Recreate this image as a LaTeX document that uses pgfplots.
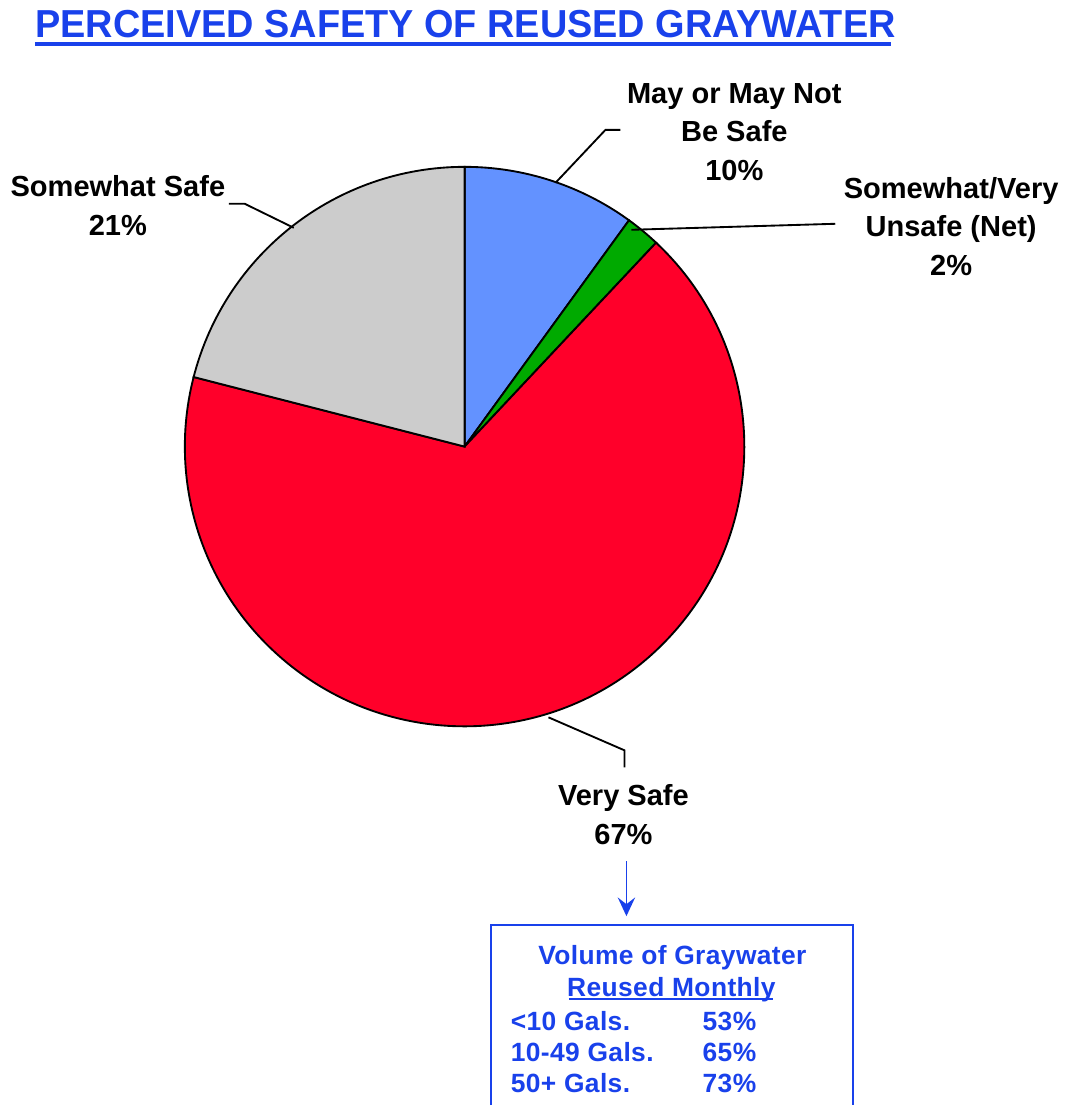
\documentclass[border=0pt]{standalone}
\usepackage{pgfplots}
\pgfplotsset{compat=1.18}
\usepackage{graphicx}
\usepackage{fontspec}
\setmainfont{Liberation Sans}
\usetikzlibrary{arrows.meta}
\definecolor{pieBlue}{RGB}{99,146,255}
\definecolor{pieGreen}{RGB}{0,170,0}
\definecolor{pieRed}{RGB}{255,0,42}
\definecolor{pieGray}{RGB}{204,204,204}
\definecolor{titleBlue}{RGB}{25,65,235}

% shares (%), clockwise from 12 o'clock:
% May or May Not Be Safe 10, Somewhat/Very Unsafe 2, Very Safe 67, Somewhat Safe 21
\newcommand{\lab}{\fontsize{21.8}{26}\selectfont\bfseries}
\newcommand{\boxf}{\fontsize{19.8}{24}\selectfont\bfseries\addfontfeatures{LetterSpace=1.5}}

\begin{document}
\begin{tikzpicture}
\begin{axis}[
    width=801pt, height=829.5pt, scale only axis,
    xmin=0, xmax=1068, ymin=0, ymax=1106,
    hide axis, clip=false,
]
\path (axis cs:0,0) rectangle (axis cs:1068,1106);

% pie: centre (465,659), radius 280
\filldraw[fill=pieBlue, draw=black, line width=1.4pt] (axis cs:465,659) -- (axis cs:{465+280*cos(90)},{659+280*sin(90)}) arc[start angle=90, end angle={90-3.6*10}, radius=280] -- cycle;
\filldraw[fill=pieGreen, draw=black, line width=1.4pt] (axis cs:465,659) -- (axis cs:{465+280*cos(54)},{659+280*sin(54)}) arc[start angle=54, end angle={54-3.6*2}, radius=280] -- cycle;
\filldraw[fill=pieRed, draw=black, line width=1.4pt] (axis cs:465,659) -- (axis cs:{465+280*cos(46.8)},{659+280*sin(46.8)}) arc[start angle=46.8, end angle={46.8-3.6*67}, radius=280] -- cycle;
\filldraw[fill=pieGray, draw=black, line width=1.4pt] (axis cs:465,659) -- (axis cs:{465+280*cos(-194.4)},{659+280*sin(-194.4)}) arc[start angle=-194.4, end angle={-194.4-3.6*21}, radius=280] -- cycle;

% leader lines
\draw[line width=1.4pt] (axis cs:556,923) -- (axis cs:606,976) -- (axis cs:621,976);
\draw[line width=1.4pt] (axis cs:632,876) -- (axis cs:836,882);
\draw[line width=1.4pt] (axis cs:294,878) -- (axis cs:245,902) -- (axis cs:229,902);
\draw[line width=1.4pt] (axis cs:549,388) -- (axis cs:625,355) -- (axis cs:625,338);

% title
\node[anchor=base west, inner sep=0pt, text=titleBlue, font=\fontsize{29.3}{31}\selectfont\bfseries] at (axis cs:35,1068) {\scalebox{0.97}[1]{PERCEIVED SAFETY OF REUSED GRAYWATER}};
\draw[titleBlue, line width=3pt] (axis cs:35,1062) -- (axis cs:892,1062);

% labels
\node[anchor=base, inner sep=0pt, font=\lab] at (axis cs:735,1002) {May or May Not};
\node[anchor=base, inner sep=0pt, font=\lab] at (axis cs:735,964) {Be Safe};
\node[anchor=base, inner sep=0pt, font=\lab] at (axis cs:735,925) {10\%};
\node[anchor=base, inner sep=0pt, font=\lab] at (axis cs:952,907) {Somewhat/Very};
\node[anchor=base, inner sep=0pt, font=\lab] at (axis cs:952,869) {Unsafe (Net)};
\node[anchor=base, inner sep=0pt, font=\lab] at (axis cs:952,830) {2\%};
\node[anchor=base, inner sep=0pt, font=\lab] at (axis cs:118,909) {Somewhat Safe};
\node[anchor=base, inner sep=0pt, font=\lab] at (axis cs:118,870) {21\%};
\node[anchor=base, inner sep=0pt, font=\lab] at (axis cs:624,300) {Very Safe};
\node[anchor=base, inner sep=0pt, font=\lab] at (axis cs:624,261) {67\%};

% arrow and box
\draw[titleBlue, line width=1.4pt, -{Stealth[length=14pt, width=13pt, inset=5pt]}] (axis cs:627,244) -- (axis cs:627,189);
\draw[titleBlue, line width=1.5pt] (axis cs:491,0) -- (axis cs:491,180) -- (axis cs:854,180) -- (axis cs:854,0);
\node[anchor=base, inner sep=0pt, text=titleBlue, font=\boxf] at (axis cs:673,141) {Volume of Graywater};
\node[anchor=base, inner sep=0pt, text=titleBlue, font=\boxf] at (axis cs:672,109) {Reused Monthly};
\draw[titleBlue, line width=1.3pt] (axis cs:570,106) -- (axis cs:774,106);
\node[anchor=base west, inner sep=0pt, text=titleBlue, font=\boxf] at (axis cs:511,75) {<10 Gals.};
\node[anchor=base west, inner sep=0pt, text=titleBlue, font=\boxf] at (axis cs:703,75) {53\%};
\node[anchor=base west, inner sep=0pt, text=titleBlue, font=\boxf] at (axis cs:511,44) {10-49 Gals.};
\node[anchor=base west, inner sep=0pt, text=titleBlue, font=\boxf] at (axis cs:703,44) {65\%};
\node[anchor=base west, inner sep=0pt, text=titleBlue, font=\boxf] at (axis cs:511,13) {50+ Gals.};
\node[anchor=base west, inner sep=0pt, text=titleBlue, font=\boxf] at (axis cs:703,13) {73\%};
\end{axis}
\end{tikzpicture}
\end{document}
